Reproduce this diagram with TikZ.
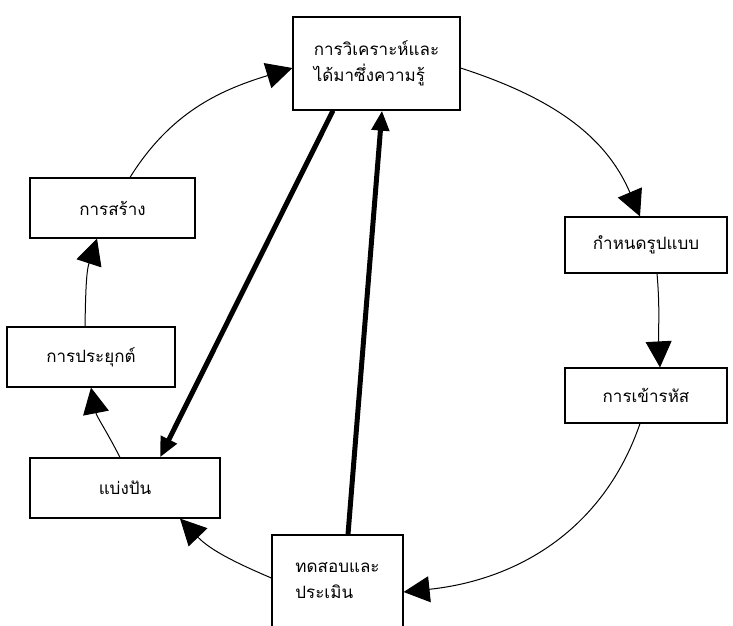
\documentclass[tikz,border=0pt]{standalone}
\usepackage{fontspec}
\newfontfamily\thaifont[Script=Thai]{Loma}
\usetikzlibrary{arrows.meta}
\begin{document}
\begin{tikzpicture}[x=1pt, y=1pt,
    box/.style={draw, line width=1.2pt, font=\thaifont\fontsize{17}{26}\selectfont, align=left, inner sep=0pt},
    cyc/.style={line width=1pt, -{Triangle[length=26pt, width=26pt]}},
    bold/.style={line width=5pt, -{Triangle[length=20pt, width=17pt]}}]
  \useasboundingbox (0, 0) rectangle (733, 625);
  \node[box, minimum width=167pt, minimum height=93pt] (analyse) at (376.5, 561.5) {การวิเคราะห์และ\\ได้มาซึ่งความรู้};
  \node[box, minimum width=162pt, minimum height=56pt] (model) at (646, 380) {กำหนดรูปแบบ};
  \node[box, minimum width=162pt, minimum height=55pt] (encode) at (646, 229.5) {การเข้ารหัส};
  \node[box, minimum width=131pt, minimum height=92pt] (test) at (337.5, 44) {ทดสอบและ\\ประเมิน};
  \node[box, minimum width=190pt, minimum height=60pt] (share) at (125, 137) {แบ่งปัน};
  \node[box, minimum width=168pt, minimum height=60pt] (apply) at (91, 268) {การประยุกต์};
  \node[box, minimum width=165pt, minimum height=60pt] (build) at (112.5, 417) {การสร้าง};
  \draw[cyc] ([xshift=17.5pt]build.north) to[out=58, in=197] ([yshift=-4.5pt]analyse.west);
  \draw[cyc] ([yshift=-4.5pt]analyse.east) to[out=-18, in=113] ([xshift=-6pt]model.north);
  \draw[cyc] ([xshift=11pt]model.south) to[out=-85, in=93] ([xshift=14pt]encode.north);
  \draw[cyc] ([xshift=-6pt]encode.south) to[out=251, in=6] ([yshift=-11pt]test.east);
  \draw[cyc] ([yshift=3pt]test.west) to[out=157, in=314] ([xshift=55pt]share.south);
  \draw[cyc] ([xshift=-5pt]share.north) to[out=117, in=281] (apply.south);
  \draw[cyc] ([xshift=-6pt]apply.north) to[out=89, in=252] ([xshift=-15.5pt]build.south);
  \draw[bold] ([xshift=-43.5pt]analyse.south) -- ([xshift=35pt]share.north);
  \draw[bold] ([xshift=10.5pt]test.north) -- ([xshift=5.5pt]analyse.south);
\end{tikzpicture}
\end{document}
